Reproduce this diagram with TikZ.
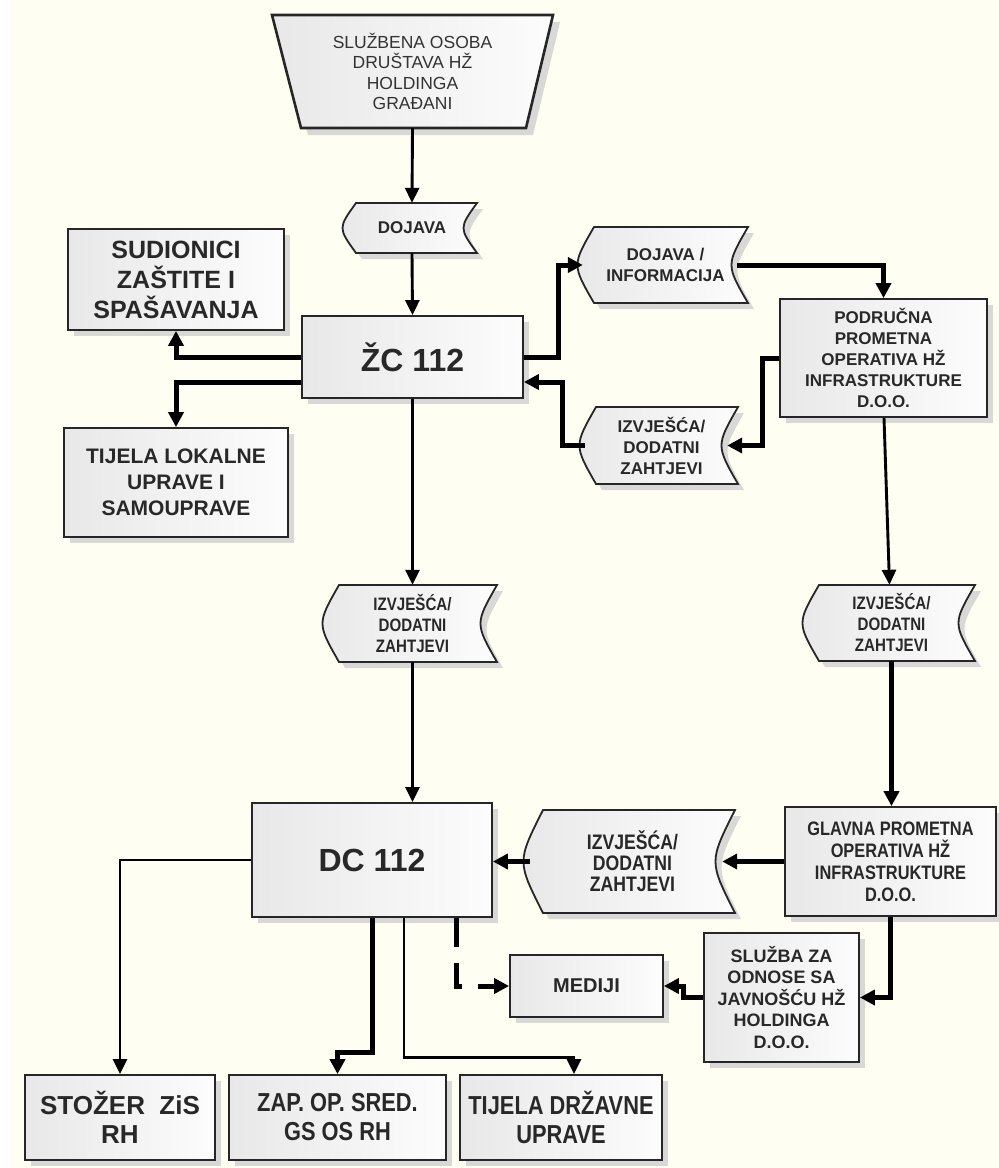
\documentclass[tikz,border=0pt]{standalone}
\usepackage{fontspec}
\setmainfont{Liberation Sans}
\newfontfamily\narrowf[FakeStretch=0.84]{Liberation Sans}
\usetikzlibrary{arrows.meta,shadows,calc}

\definecolor{paper}{RGB}{254,254,243}
\definecolor{shadowc}{RGB}{216,216,214}
\definecolor{ink}{RGB}{40,40,40}

\tikzset{
  boxline/.style={draw=black!85, line width=1.8pt},
  fillshade/.style={left color=black!9, right color=black!1},
  rbox/.style={boxline, fillshade,
    general shadow={fill=shadowc, shadow xshift=6pt, shadow yshift=-6pt},
    align=center, text=ink, inner sep=1pt},
  tapetxt/.style={align=center, text=ink, inner sep=1pt},
  thinarrow/.style={line width=2.9pt, -{Triangle[length=15pt,width=14pt]}},
  thickarrow/.style={line width=5pt, -{Triangle[length=15pt,width=15pt]}},
  smallbold/.style={font=\fontsize{17}{21}\selectfont\bfseries},
  narrowbold/.style={font=\narrowf\fontsize{18}{21}\selectfont\bfseries},
}

% stored-data symbol: name, cx, cy, half width, half height, curve depth, text, text style
\newcommand\tapebox[8]{%
  \begin{scope}[shift={(#2,#3)}]
    \fill[shadowc, shift={(6,6)}] ({-#4+#6},{-#5}) -- ({#4},{-#5})
      .. controls ({#4-2*#6},0) .. ({#4},{#5}) -- ({-#4+#6},{#5})
      .. controls ({-#4-#6},0) .. ({-#4+#6},{-#5}) -- cycle;
    \draw[boxline, fillshade] ({-#4+#6},{-#5}) -- ({#4},{-#5})
      .. controls ({#4-2*#6},0) .. ({#4},{#5}) -- ({-#4+#6},{#5})
      .. controls ({-#4-#6},0) .. ({-#4+#6},{-#5}) -- cycle;
  \end{scope}
  \node[tapetxt, #8, minimum width={2*#4}, minimum height={2*#5}] (#1) at (#2,#3) {#7};
}

\begin{document}
\begin{tikzpicture}[x=1pt, y=-1pt]
  \useasboundingbox (0,0) rectangle (999,1168);
  \fill[white] (0,0) rectangle (999,1168);
  \fill[paper] (9,0) rectangle (999,1168);

  % source: trapezoid
  \fill[shadowc, shift={(7,7)}] (272,15) -- (553,15) -- (526,128) -- (301,128) -- cycle;
  \draw[draw=black!85, line width=2.6pt, fillshade] (272,15) -- (553,15) -- (526,128) -- (301,128) -- cycle;
  \node[tapetxt, minimum width=225pt, minimum height=113pt,
        font=\fontsize{17.5}{20.5}\selectfont, text=black!80] (trap) at (412.5,71.5)
        {SLUŽBENA OSOBA\\DRUŠTAVA HŽ\\HOLDINGA\\GRAĐANI};

  % stored-data symbols
  \tapebox{dojava}{412}{228}{65}{25}{9}{DOJAVA}{smallbold}
  \tapebox{dinf}{665.5}{265}{82.5}{38}{11}{DOJAVA /\\INFORMACIJA}{smallbold}
  \tapebox{izs}{661.5}{445.5}{76.5}{38.5}{11}{IZVJEŠĆA/\\DODATNI\\ZAHTJEVI}{smallbold}
  \tapebox{izm}{412.5}{623.5}{84.5}{38.5}{11}{IZVJEŠĆA/\\DODATNI\\ZAHTJEVI}{narrowbold}
  \tapebox{izr}{891.5}{623}{83.5}{38}{11}{IZVJEŠĆA/\\DODATNI\\ZAHTJEVI}{narrowbold}
  \tapebox{izb}{632.5}{861.5}{102.5}{51.5}{13}{IZVJEŠĆA/\\DODATNI\\ZAHTJEVI}{font=\narrowf\fontsize{21}{21}\selectfont\bfseries}

  % rectangular boxes
  \node[rbox, minimum width=216pt, minimum height=101pt,
        font=\fontsize{25}{30}\selectfont\bfseries] (sud) at (176,279.5)
        {SUDIONICI\\ZAŠTITE I\\SPAŠAVANJA};
  \node[rbox, minimum width=221pt, minimum height=82pt,
        font=\fontsize{32}{36}\selectfont\bfseries] (zc) at (412.5,357) {ŽC 112};
  \node[rbox, minimum width=224pt, minimum height=109pt,
        font=\fontsize{21}{26}\selectfont\bfseries] (tlok) at (176,482.5)
        {TIJELA LOKALNE\\UPRAVE I\\SAMOUPRAVE};
  \node[rbox, minimum width=207pt, minimum height=118pt, smallbold] (podr) at (883.5,358)
        {PODRUČNA\\PROMETNA\\OPERATIVA HŽ\\INFRASTRUKTURE\\D.O.O.};
  \node[rbox, minimum width=240pt, minimum height=114pt,
        font=\fontsize{32}{36}\selectfont\bfseries] (dc) at (372,860) {DC 112};
  \node[rbox, minimum width=211pt, minimum height=109pt,
        font=\narrowf\fontsize{19.5}{22}\selectfont\bfseries] (glav) at (890.5,861.5)
        {GLAVNA PROMETNA\\OPERATIVA HŽ\\INFRASTRUKTURE\\D.O.O.};
  \node[rbox, minimum width=153pt, minimum height=62pt,
        font=\fontsize{20}{24}\selectfont\bfseries] (med) at (586.5,986) {MEDIJI};
  \node[rbox, minimum width=155pt, minimum height=129pt,
        font=\fontsize{18}{21.5}\selectfont\bfseries] (sluz) at (781.5,997.5)
        {SLUŽBA ZA\\ODNOSE SA\\JAVNOŠĆU HŽ\\HOLDINGA\\D.O.O.};
  \node[rbox, minimum width=190pt, minimum height=85pt,
        font=\fontsize{26}{29}\selectfont\bfseries] (stoz) at (120,1117.5)
        {STOŽER~~ZiS\\RH};
  \node[rbox, minimum width=217pt, minimum height=85pt,
        font=\narrowf\fontsize{26}{29}\selectfont\bfseries] (zap) at (337.5,1117.5)
        {ZAP. OP. SRED.\\GS OS RH};
  \node[rbox, minimum width=202pt, minimum height=85pt,
        font=\narrowf\fontsize{26}{29}\selectfont\bfseries] (tdrz) at (561,1117.5)
        {TIJELA DRŽAVNE\\UPRAVE};

  % connectors
  \draw[thinarrow] (trap.south) -- (dojava.north);
  \draw[thinarrow] (dojava.south) -- (zc.north);
  \draw[thickarrow] (zc.west) -| (sud.south);
  \draw[thickarrow] ($(zc.west)+(0,25)$) -| (tlok.north);
  \draw[thickarrow] (zc.east) -- ++(35,0) |- (dinf.west);
  \draw[thickarrow] ($(dinf.east)+(-11,0)$) -| (podr.north);
  \draw[thickarrow] (podr.west) -- ++(-17,0) |- ($(izs.east)+(-11,0)$);
  \draw[thickarrow] (izs.west) -- ++(-22,0) |- ($(zc.east)+(0,25)$);
  \draw[thinarrow] (zc.south) -- (izm.north);
  \draw[thinarrow] (izm.south) -- (izm.south |- dc.north);
  \draw[thinarrow] ($(podr.south)+(0.5,0)$) -- ($(izr.north)+(-2,0)$);
  \draw[thickarrow] (izr.south) -- (izr.south |- glav.north);
  \draw[thickarrow] (glav.west) -- ($(izb.east)+(-13,0)$);
  \draw[thickarrow] (izb.west) -- (izb.west -| dc.east);
  \draw[thinarrow] (dc.west) -| (stoz.north);
  \draw[thickarrow] (dc.south) -- ++(0,135) -| (zap.north);
  \draw[thinarrow] ($(dc.south)+(32,0)$) -- ++(0,140) -| ($(tdrz.north)+(13,0)$);
  \draw[thickarrow, dash pattern=on 29pt off 16pt] ($(dc.south)+(84,0)$) |- (med.west);
  \draw[thickarrow] (glav.south) |- (sluz.east);
  \draw[thickarrow] (sluz.west) -- ++(-20,0) |- (med.east);
\end{tikzpicture}
\end{document}
